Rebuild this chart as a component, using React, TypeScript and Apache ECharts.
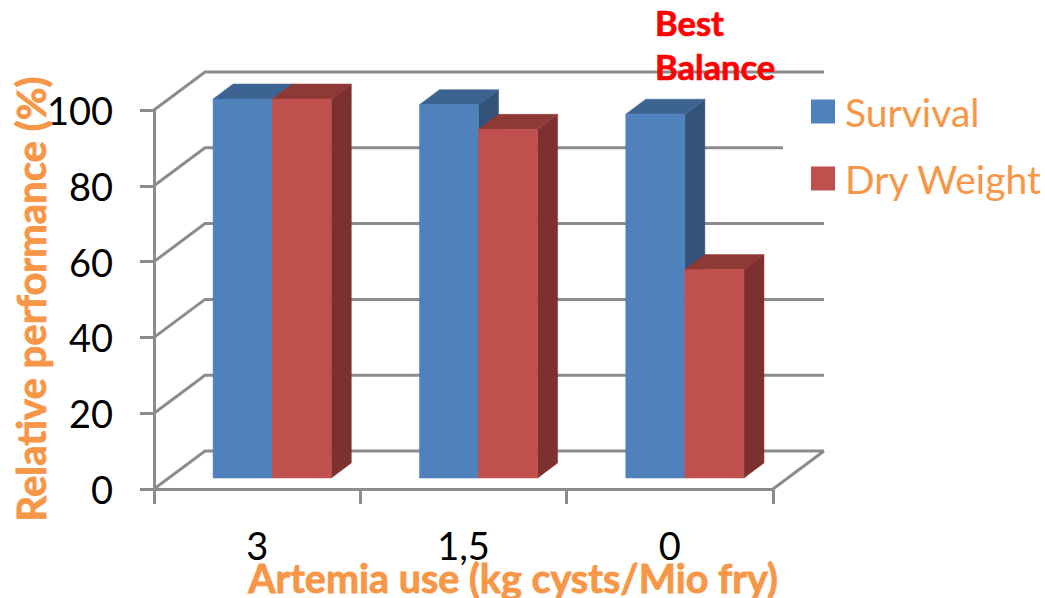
import React, { useEffect, useRef } from "react";
import * as echarts from "echarts";

// Artemia use per million fry, with relative performance of each treatment
const categories = ["3", "1,5", "0"];
const survival = [100, 98.5, 96];
const dryWeight = [100, 92, 55];
const gridValues = [0, 20, 40, 60, 80, 100];

const ORANGE = "#f79646";
const GRID = "#8c8c8c";
const BLUE = { front: "#4f81bd", side: "#335378", top: "#3d6390" };
const RED = { front: "#c0504d", side: "#7c3030", top: "#8f3937" };

// Oblique projection used to fake the 3D box
const WALL_DX = 51;
const WALL_DY = -38;
const BAR_DX = 20;
const BAR_DY = -15;
const BASE_LIFT = -11;
const BAR_WIDTH_RATIO = 59 / 206;
const BAR_SHIFT_RATIO = 15 / 206;

function renderBar(palette: typeof BLUE, seriesPos: number) {
  return (_params: any, api: any) => {
    const cat = api.value(0);
    const value = api.value(1);
    const band = api.size([1, 0])[0];
    const w = band * BAR_WIDTH_RATIO;
    const center = api.coord([cat, 0])[0] + band * BAR_SHIFT_RATIO;
    const x0 = center + (seriesPos - 1) * w;
    const x1 = x0 + w;
    const yBase = api.coord([cat, 0])[1] + BASE_LIFT;
    const yTop = api.coord([cat, value])[1] + BASE_LIFT;
    const poly = (points: number[][], fill: string) => ({
      type: "polygon",
      shape: { points },
      style: { fill, stroke: fill, lineWidth: 0.5 },
    });
    return {
      type: "group",
      children: [
        poly(
          [[x1, yTop], [x1 + BAR_DX, yTop + BAR_DY], [x1 + BAR_DX, yBase + BAR_DY], [x1, yBase]],
          palette.side,
        ),
        poly(
          [[x0, yTop], [x0 + BAR_DX, yTop + BAR_DY], [x1 + BAR_DX, yTop + BAR_DY], [x1, yTop]],
          palette.top,
        ),
        poly([[x0, yTop], [x1, yTop], [x1, yBase], [x0, yBase]], palette.front),
      ],
    };
  };
}

// One wall line per tick: up the side wall, then along the back wall
function renderGridLine(params: any, api: any) {
  const value = api.value(0);
  const y = api.coord([0, value])[1];
  const x0 = params.coordSys.x;
  const x1 = x0 + params.coordSys.width;
  const lineStyle = { stroke: GRID, lineWidth: 3, fill: "none" };
  const children: any[] = [
    {
      type: "polyline",
      shape: { points: [[x0, y], [x0 + WALL_DX, y + WALL_DY], [x1 + WALL_DX, y + WALL_DY]] },
      style: lineStyle,
    },
  ];
  if (value === 0) {
    children.push({
      type: "line",
      shape: { x1, y1: y, x2: x1 + WALL_DX, y2: y + WALL_DY },
      style: lineStyle,
    });
  }
  return { type: "group", children };
}

export default function App() {
  const ref = useRef<HTMLDivElement>(null);

  useEffect(() => {
    if (!ref.current) return;
    const chart = echarts.init(ref.current, undefined, { renderer: "svg" });
    chart.setOption({
      animation: false,
      backgroundColor: "#ffffff",
      textStyle: { fontFamily: "Lato" },
      grid: { left: 154, right: 272, top: 110, bottom: 109 },
      xAxis: {
        type: "category",
        data: categories,
        axisLine: { show: true, lineStyle: { color: GRID, width: 3 } },
        axisTick: { show: true, length: 15, lineStyle: { color: GRID, width: 3 } },
        axisLabel: { color: "#000000", fontSize: 38, lineHeight: 26, margin: 43, fontFamily: "Lato" },
      },
      yAxis: {
        type: "value",
        min: 0,
        max: 100,
        interval: 20,
        splitLine: { show: false },
        axisLine: { show: true, onZero: false, lineStyle: { color: GRID, width: 3 } },
        axisTick: { show: true, length: 14, lineStyle: { color: GRID, width: 3 } },
        axisLabel: { color: "#000000", fontSize: 38, margin: 41, fontFamily: "Lato" },
      },
      legend: {
        left: 783,
        top: 92,
        orient: "vertical",
        selectedMode: false,
        backgroundColor: "#ffffff",
        padding: [0, 0, 8, 28],
        itemWidth: 24,
        itemHeight: 24,
        itemGap: 28,
        icon: "rect",
        textStyle: { color: ORANGE, fontSize: 39, fontFamily: "Lato", padding: [0, 0, 0, 5] },
        data: ["Survival", "Dry Weight"],
      },
      graphic: [
        {
          type: "text",
          x: 655,
          y: 0,
          z: 20,
          style: {
            text: "Best\nBalance",
            fill: "#ff0000",
            stroke: "#ff0000",
            lineWidth: 0.7,
            font: "bold 34.5px Lato",
            lineHeight: 44,
          },
        },
        {
          type: "text",
          x: 31,
          y: 299,
          rotation: Math.PI / 2,
          z: 20,
          style: {
            text: "Relative performance (%)",
            fill: ORANGE,
            stroke: ORANGE,
            lineWidth: 0.8,
            font: "bold 40px Lato",
            align: "center",
            verticalAlign: "middle",
          },
        },
        {
          type: "text",
          x: 513,
          y: 577,
          z: 20,
          style: {
            text: "Artemia use (kg cysts/Mio fry)",
            fill: ORANGE,
            stroke: ORANGE,
            lineWidth: 0.8,
            font: "bold 39.5px Lato",
            align: "center",
            verticalAlign: "middle",
          },
        },
      ],
      series: [
        {
          type: "custom",
          silent: true,
          coordinateSystem: "cartesian2d",
          clip: false,
          z: 1,
          encode: { y: 0 },
          data: gridValues.map((v) => [v]),
          renderItem: renderGridLine,
        },
        {
          type: "custom",
          name: "Survival",
          coordinateSystem: "cartesian2d",
          clip: false,
          z: 2,
          itemStyle: { color: BLUE.front },
          encode: { x: 0, y: 1 },
          data: survival.map((v, i) => [i, v]),
          renderItem: renderBar(BLUE, 0),
        },
        {
          type: "custom",
          name: "Dry Weight",
          coordinateSystem: "cartesian2d",
          clip: false,
          z: 3,
          itemStyle: { color: RED.front },
          encode: { x: 0, y: 1 },
          data: dryWeight.map((v, i) => [i, v]),
          renderItem: renderBar(RED, 1),
        },
      ],
    });
    return () => chart.dispose();
  }, []);

  return (
    <div
      ref={ref}
      style={{ position: "fixed", left: 0, top: 0, width: 1045, height: 598 }}
    />
  );
}
